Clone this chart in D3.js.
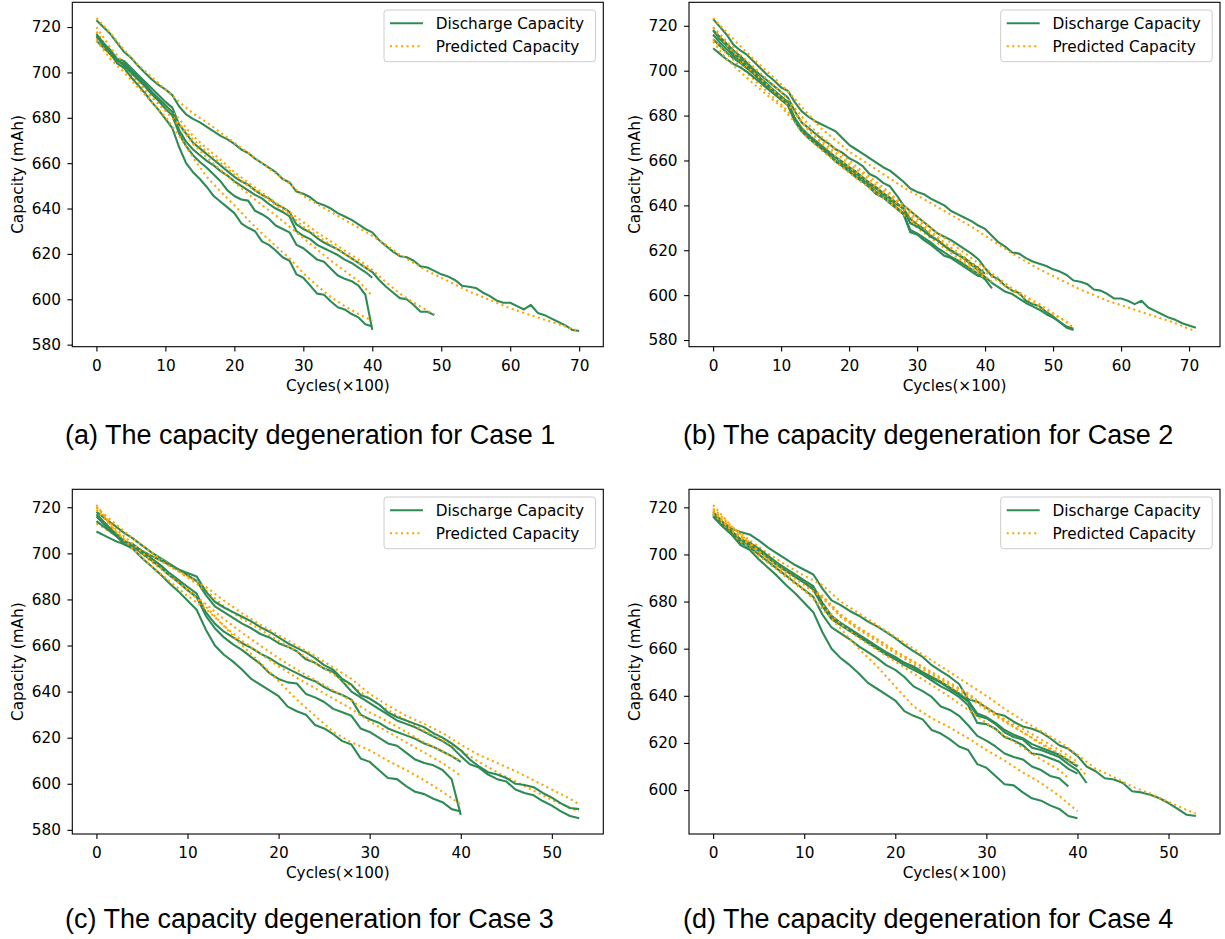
<!DOCTYPE html>
<html>
<head>
<meta charset="utf-8">
<script src="https://cdn.jsdelivr.net/npm/d3@7"></script>
<style>
  body { margin: 0; background: #fff; }
  svg { display: block; }
</style>
</head>
<body>
<script>
// discharge capacity (mAh), one value per 100 cycles, index = cycles / 100
const cell70 = [723, 720, 717, 713, 709, 706.5, 703, 700, 697, 694.5, 692.5, 690, 685, 681.5, 679.5, 678, 676, 674, 672, 670.5, 668.5, 666, 664.5, 662, 660, 658, 656, 653, 651.5, 647.5, 646.5, 645, 642.5, 641.5, 640, 638, 636.5, 635, 633, 631, 629.5, 626, 623.5, 621, 619, 618.5, 617, 614.5, 614, 612.5, 611, 610, 608.5, 606, 605.5, 605, 603, 601.5, 599.5, 598.5, 598.5, 597, 595.5, 597.5, 594, 593, 591.5, 590, 588.5, 586.5, 586];
const cell71 = [723, 719.5, 716, 711.5, 709, 707, 704, 701, 698, 695.5, 692.5, 691, 686, 682, 679.5, 677.5, 676, 674.5, 673, 670, 667, 665, 663, 661, 659, 657, 655.5, 653, 650.5, 647.5, 646, 645, 643, 641.5, 640, 637.5, 636, 634.5, 633, 631, 629.5, 626.5, 623.5, 621.5, 619, 618.5, 616.5, 615, 614, 613, 611.5, 610.5, 609, 606.5, 606, 605, 602.5, 602, 600.5, 598.5, 598.5, 597.5, 596, 597.5, 594.5, 593, 591.5, 590, 589, 587.5, 586.5, 585.5];
const cell49 = [716, 713, 710, 706, 705, 702, 699, 696, 693, 690, 687, 684.5, 677, 673, 669, 666.5, 664, 661.5, 659, 656.5, 654, 652, 650.5, 648, 646, 644.5, 642, 640.5, 638.5, 633, 631, 629.5, 627, 625, 623.5, 622, 620, 618, 616, 614, 612, 608.5, 605.5, 603, 600.5, 600, 597.5, 594.5, 594.5, 593];
const cell40a = [714, 711, 708, 705, 704, 701, 698, 695, 691.5, 688.5, 685.5, 682.5, 674.5, 669.5, 666, 663.5, 661, 659, 656.5, 654.5, 652, 650, 648, 646, 644.5, 642, 640, 638.5, 636.5, 630, 628, 626.5, 624, 622.5, 621, 619.5, 617.5, 616, 614, 612, 609.5];
const cell40s = [717, 713, 709, 705.5, 703, 700, 697, 694, 690.5, 687.5, 684, 681, 673, 667.5, 663.5, 660.5, 658, 655, 652, 648, 645.5, 644, 643.5, 639, 637.5, 635.5, 632.5, 631, 629.5, 624, 622.5, 620, 617.5, 616.5, 613.5, 610.5, 609, 608, 606, 602, 586.5];
const cell40b = [716, 712, 708.5, 704, 702, 698, 694.5, 691, 687, 683.5, 679.5, 675.5, 667, 660, 656, 653, 649.5, 645.5, 643, 640.5, 638, 633.5, 631.5, 630, 625.5, 624, 621.5, 618.5, 617, 611, 609.5, 606, 602.5, 602, 599, 596.5, 595.5, 593.5, 592, 589, 588];
const cell53a = [718, 715, 712, 709, 706.5, 703.5, 700.5, 698, 695.5, 693, 690.5, 688, 682, 677, 674.5, 672, 669.5, 667.5, 665, 663.5, 661, 659.5, 657.5, 654, 652.5, 650, 648.5, 644.5, 640, 637.5, 635, 632.5, 630, 627.5, 626, 624.5, 622.5, 620.5, 618.5, 616, 612, 608.5, 607, 604, 602, 601, 597.5, 596, 595, 592.5, 590.5, 588, 586, 585];
const cell53b = [709.5, 707.5, 705.5, 704, 703, 701, 699, 697, 695, 693, 691.5, 690, 683.5, 679, 676.5, 674.5, 672.5, 670.5, 668, 666, 663.5, 661, 659, 657, 654.5, 651.5, 649.5, 645.5, 643, 638.5, 637, 634.5, 631, 629, 627.5, 626, 624.5, 622, 620, 617.5, 614.5, 610.5, 607.5, 605, 604, 602.5, 600, 599.5, 598.5, 596, 594, 591.5, 589.5, 589];
const cell53c = [714, 711, 708, 705.5, 703.5, 701, 698.5, 696, 693.5, 691, 688.5, 686, 679, 674.5, 671.5, 669, 666.5, 664, 661.5, 659.5, 657, 655, 652.5, 650, 648, 645.5, 643.5, 641, 638.5, 634, 631.5, 629.5, 626.5, 624.5, 622, 619.5, 618, 616, 613.5, 611, 608, 605.5, 603.5, 601.5, 600.5, 598.5, 596.5, 595, 593.5, 591.5, 590, 588, 585.5, 584.5];
const cell41 = [718, 714, 711, 707.5, 705.5, 702.5, 699.5, 696.5, 694, 691, 688.5, 685.5, 678, 673.5, 670.5, 668, 665.5, 663, 660, 658, 655.5, 653.5, 651, 648.5, 646, 644, 642, 639, 636.5, 629, 627.5, 625.5, 623.5, 621, 619, 617, 615.5, 613.5, 611.5, 609.5, 607, 603];
const cell40c = [710, 707.5, 705, 703, 701.5, 699.5, 697, 694.5, 692, 689.5, 687, 684.5, 677.5, 673, 670, 667.5, 665, 662.5, 659.5, 657.5, 655, 652.5, 650.5, 648, 645, 643.5, 641, 638.5, 636, 628, 627, 624.5, 622.5, 620, 617.5, 616.5, 614.5, 612.5, 610.5, 608.5, 608];
const cell40d = [716, 712.5, 709.5, 706.5, 704.5, 701.5, 698.5, 695.5, 693, 690.5, 688, 685.5, 678.5, 674, 671, 668.5, 666, 663.5, 661.5, 659, 656.5, 654.5, 652, 649.5, 647.5, 645, 643, 640.5, 638.5, 632, 630.5, 628.5, 626, 624.5, 622, 620, 618, 616.5, 614, 612, 609.5];
const cellD53 = [718, 714, 711, 709.5, 708.5, 706, 703, 700.5, 698, 695.5, 693.5, 691.5, 685.5, 680.5, 678.5, 676, 674, 671.5, 669.5, 667, 664.5, 661.5, 659, 656.5, 653, 650.5, 648, 645, 638.5, 637.5, 635, 632.5, 631.5, 629, 627, 626, 624.5, 622, 619, 617.5, 614.5, 610, 608, 605, 604.5, 603, 599.5, 599, 598, 596.5, 594.5, 592, 589.5, 589];
const cellD41 = [717, 713, 709.5, 706, 704.5, 702, 699, 696, 693, 690.5, 688, 685.5, 678.5, 673, 670.5, 668, 665.5, 663, 660.5, 658, 656, 654, 652, 649.5, 647.5, 645.5, 643, 640.5, 637.5, 631.5, 630.5, 628, 624.5, 622.5, 621.5, 618, 617, 615.5, 614, 611, 608.5, 603];
const cellD40a = [717.5, 713.5, 710, 706.5, 705, 702.5, 699.5, 696.5, 694, 691.5, 689, 686.5, 679.5, 674, 671, 668.5, 666, 663.5, 661, 658.5, 656.5, 654, 652.5, 650, 648, 646, 643.5, 641, 638, 632.5, 631, 628.5, 625.5, 623.5, 622, 619.5, 618, 616.5, 615, 612.5, 610];
const cellD40b = [717, 713, 709.5, 706, 704, 701.5, 698.5, 695.5, 693, 690.5, 688, 685, 678, 672.5, 670, 667.5, 665, 662.5, 660, 657.5, 655.5, 653, 651, 649, 646.5, 644, 642, 639.5, 636, 628.5, 628, 626, 622.5, 621, 619, 615.5, 615, 613.5, 612, 609, 607];
const cellD39 = [716.5, 712.5, 709, 705, 703, 700, 697, 694, 691, 688, 685, 682, 674.5, 669, 666.5, 664, 661, 658.5, 656, 653, 651, 648, 644, 642, 639.5, 635.5, 634, 631.5, 627.5, 623, 621, 618.5, 615.5, 614, 613, 610, 608.5, 606, 605, 601.5];

// predicted capacity, one value every 200 cycles, the last one at end of life
const pa70 = [724, 717.5, 710, 703.5, 698, 692.5, 687, 682, 678, 673.5, 669, 664.5, 660, 655.5, 651, 645.5, 642, 638.5, 635, 631.5, 628, 624, 619.5, 616, 612.5, 609.5, 606.5, 603.5, 601, 598.5, 596, 594, 592, 590, 588, 586];
const pa49 = [720, 711, 704, 697, 691, 685.5, 679.5, 672, 666.5, 661.5, 656, 651.5, 647, 642.5, 638.5, 634, 629.5, 625.5, 621.5, 617.5, 613, 607.5, 602.5, 598.5, 595, 593.5];
const pa40a = [718, 709, 702.5, 696, 690, 684, 677.5, 670.5, 665, 660, 655, 650, 646, 641.5, 637.5, 632, 628, 624, 620, 616, 612];
const pa40s = [715, 707.5, 701.5, 695, 689, 683, 676.5, 668.5, 662.5, 657, 651.5, 646.5, 641.5, 637, 632, 627, 622, 617, 612.5, 608, 601.5];
const pa40b = [714, 706, 700, 693.5, 687, 680.5, 672, 662.5, 654, 647.5, 641.5, 635, 629, 623.5, 618, 611.5, 606, 601, 597, 593.5, 590.5];

const pb71 = [723.5, 717, 711, 705, 699.5, 694, 687.5, 680.5, 674, 669, 664, 660, 656, 652, 648, 644.5, 641, 637.5, 634, 630.5, 626.5, 622.5, 618.5, 615, 611.5, 608.5, 605.5, 602.5, 600, 597.5, 595.5, 593.5, 591.5, 589.5, 587.5, 585, 584];
const pb53a = [719.5, 713, 707, 701.5, 696, 690.5, 683.5, 676, 670.5, 665, 660, 655, 650.5, 645.5, 639.5, 634, 628.5, 623.5, 619, 614.5, 610.5, 606, 602, 598.5, 595, 591.5, 588, 585];
const pb53c = [716, 709.5, 704, 698.5, 693, 688, 681, 674, 668.5, 663.5, 658.5, 654, 649, 644.5, 640, 635, 630, 625.5, 621, 616.5, 612, 607.5, 603, 599.5, 596, 592, 588, 585.5];
const pb41 = [714, 707.5, 702, 696, 690.5, 685, 678.5, 671.5, 666, 661, 656, 651.5, 647, 642, 637, 631, 626.5, 622, 617.5, 613, 608.5, 606];
const pb40c = [713, 705, 699.5, 694, 689, 684, 677, 670, 664.5, 659.5, 654.5, 650, 645.5, 641, 636, 630, 625.5, 621, 616.5, 612, 607.5];
const pb40d = [719, 711.5, 705, 699, 693.5, 688, 681.5, 673.5, 667.5, 662, 657, 652.5, 648, 643.5, 638.5, 632.5, 627.5, 623, 618.5, 614, 609];

const pc53a = [720, 713, 706.5, 700.5, 695, 689.5, 684, 677, 671.5, 667, 662, 657.5, 652.5, 647.5, 642.5, 637, 632, 627.5, 623, 619, 614.5, 609.5, 605, 601, 597, 593, 589.5, 588];
const pc53b = [713, 708, 703.5, 699, 694.5, 690, 685.5, 679.5, 674, 669, 664.5, 660, 655.5, 650.5, 645.5, 639, 634, 629.5, 626, 622, 617, 612.5, 609, 605.5, 601.5, 597.5, 593.5, 591];
const pc40a = [719, 710, 703, 696.5, 690.5, 684.5, 678, 671.5, 665.5, 660, 654.5, 649.5, 645, 640.5, 636, 631, 627, 622.5, 618, 614, 610];
const pc40s = [720, 711, 704, 697, 690.5, 684, 677, 668.5, 662, 656.5, 651, 646, 641.5, 637, 632.5, 627, 622.5, 618, 613.5, 609, 603.5];
const pc40b = [721, 710, 702, 694.5, 688, 681.5, 676, 668.5, 660, 652.5, 644.5, 636.5, 629.5, 622.5, 618, 614.5, 610, 606, 601.5, 596.5, 591];

const pd53 = [719.5, 712, 706, 700.5, 695.5, 691, 687, 680, 675, 670, 665, 660, 655, 650, 645, 640, 634.5, 629.5, 625, 620.5, 615, 609, 605.5, 601.5, 598.5, 595, 591.5, 590];
const pd41 = [719, 711, 705, 699, 693.5, 688, 682, 674, 668.5, 664, 659, 654.5, 650, 645.5, 641, 635, 629.5, 624.5, 619.5, 615, 610.5, 606];
const pd40a = [718.5, 710.5, 704.5, 698.5, 693, 688, 682.5, 674.5, 669, 664, 659, 654.5, 649.5, 645, 640.5, 635, 630, 626, 621.5, 617, 612];
const pd40b = [718, 710, 704, 698, 692.5, 687, 681.5, 673.5, 668, 663, 658, 653.5, 649, 644, 639.5, 634, 629, 624.5, 620, 615.5, 610.5];
const pd39 = [717, 708.5, 702.5, 696.5, 690.5, 684.5, 678.5, 670.5, 664.5, 659.5, 654.5, 649.5, 644.5, 639.5, 634, 628.5, 623, 618, 613, 608.5, 605];
const pd40bot = [721, 712, 705, 698, 691.5, 685, 677, 668.5, 660, 652.5, 644, 635.5, 630.5, 626.5, 622, 617, 612.5, 607.5, 603, 597.5, 591];

// ticks
const xTicksLong = [0, 10, 20, 30, 40, 50, 60, 70];
const xTicksShort = [0, 10, 20, 30, 40, 50];
const yTicks = [580, 600, 620, 640, 660, 680, 700, 720];

const captions = [
  '(a) The capacity degeneration for Case 1',
  '(b) The capacity degeneration for Case 2',
  '(c) The capacity degeneration for Case 3',
  '(d) The capacity degeneration for Case 4'
];

// [discharge, predicted] pairs per case
const panels = [
  { cells: [[cell70, pa70], [cell49, pa49], [cell40a, pa40a], [cell40s, pa40s], [cell40b, pa40b]],
    xTicks: xTicksLong, left: 72.3, right: 603.3, top: 2.3, bottom: 346.7, capX: 65, capY: 444 },
  { cells: [[cell71, pb71], [cell53a, pb53a], [cell53c, pb53c], [cell41, pb41], [cell40c, pb40c], [cell40d, pb40d]],
    xTicks: xTicksLong, left: 689, right: 1220, top: 2.3, bottom: 346.7, capX: 683, capY: 444 },
  { cells: [[cell53a, pc53a], [cell53b, pc53b], [cell40a, pc40a], [cell40s, pc40s], [cell40b, pc40b]],
    xTicks: xTicksShort, left: 72.3, right: 603.3, top: 489.3, bottom: 834, capX: 65, capY: 928 },
  { cells: [[cellD53, pd53], [cellD41, pd41], [cellD40a, pd40a], [cellD40b, pd40b], [cellD39, pd39], [cell40b, pd40bot]],
    xTicks: xTicksShort, left: 689, right: 1220, top: 489.3, bottom: 834, capX: 683, capY: 928 }
];

const GREEN = '#2e8b57', ORANGE = '#ffa500';
const TICK_FONT = 'DejaVu Sans';
const FS = 15.3;

var svg = d3.select('body').append('svg')
  .attr('width', 1225)
  .attr('height', 939)
  .style('background', '#fff');

panels.forEach(function(p, k) {
  var g = svg.append('g');

  var xMax = d3.max(p.cells, c => c[0].length - 1);
  var all = p.cells.flatMap(c => c[0].concat(c[1]));
  var lo = d3.min(all), hi = d3.max(all), pad = (hi - lo) * 0.05;

  var x = d3.scaleLinear().domain([-0.05 * xMax, 1.05 * xMax]).range([p.left, p.right]);
  var y = d3.scaleLinear().domain([lo - pad, hi + pad]).range([p.bottom, p.top]);

  var line = d3.line().x(d => x(d[0])).y(d => y(d[1]));

  p.cells.forEach(function(c) {
    var disc = c[0], pred = c[1];
    var end = disc.length - 1;
    var discPts = disc.map((v, i) => [i, v]);
    var predPts = pred.map((v, i) => [Math.min(2 * i, end), v]);

    g.append('path')
      .attr('d', line(discPts))
      .attr('fill', 'none')
      .attr('stroke', GREEN)
      .attr('stroke-width', 2.1)
      .attr('stroke-linejoin', 'round');

    g.append('path')
      .attr('d', line(predPts))
      .attr('fill', 'none')
      .attr('stroke', ORANGE)
      .attr('stroke-width', 2.1)
      .attr('stroke-dasharray', '2.1,3.4');
  });

  // frame
  g.append('rect')
    .attr('x', p.left).attr('y', p.top)
    .attr('width', p.right - p.left).attr('height', p.bottom - p.top)
    .attr('fill', 'none').attr('stroke', '#000').attr('stroke-width', 1.1);

  // axes
  var gx = g.append('g')
    .attr('transform', 'translate(0,' + p.bottom + ')')
    .call(d3.axisBottom(x).tickValues(p.xTicks).tickSize(4.9).tickPadding(8.3));
  var ySet = yTicks.filter(t => t >= y.domain()[0] && t <= y.domain()[1]);
  var gy = g.append('g')
    .attr('transform', 'translate(' + p.left + ',0)')
    .call(d3.axisLeft(y).tickValues(ySet).tickSize(4.9).tickPadding(6.5));

  [gx, gy].forEach(function(a) {
    a.select('.domain').remove();
    a.attr('font-family', TICK_FONT).attr('font-size', FS);
    a.selectAll('line').attr('stroke', '#000').attr('stroke-width', 1.1);
    a.selectAll('text').attr('fill', '#000');
  });

  g.append('text')
    .attr('x', (p.left + p.right) / 2)
    .attr('y', p.bottom + 44)
    .attr('text-anchor', 'middle')
    .attr('font-family', TICK_FONT).attr('font-size', FS)
    .text('Cycles(×100)');

  g.append('text')
    .attr('transform', 'translate(' + (p.left - 49.5) + ',' + ((p.top + p.bottom) / 2) + ') rotate(-90)')
    .attr('text-anchor', 'middle')
    .attr('font-family', TICK_FONT).attr('font-size', FS)
    .text('Capacity (mAh)');

  // legend
  var lg = g.append('g')
    .attr('transform', 'translate(' + (p.right - 219.3) + ',' + (p.top + 7.7) + ')');
  lg.append('rect')
    .attr('width', 211.5).attr('height', 51.7).attr('rx', 3)
    .attr('fill', '#fff').attr('fill-opacity', 0.8)
    .attr('stroke', '#ccc').attr('stroke-width', 1);
  var items = [['Discharge Capacity', GREEN, null], ['Predicted Capacity', ORANGE, '2.1,3.4']];
  items.forEach(function(it, i) {
    var yy = 13.3 + i * 23;
    lg.append('line')
      .attr('x1', 6).attr('x2', 39).attr('y1', yy).attr('y2', yy)
      .attr('stroke', it[1]).attr('stroke-width', 2.1)
      .attr('stroke-dasharray', it[2]);
    lg.append('text')
      .attr('x', 51.7).attr('y', yy + 5.5)
      .attr('font-family', TICK_FONT).attr('font-size', FS)
      .text(it[0]);
  });

  // caption under the panel
  svg.append('text')
    .attr('x', p.capX).attr('y', p.capY)
    .attr('font-family', 'Liberation Sans, Arial, sans-serif')
    .attr('font-size', 27)
    .attr('fill', '#000')
    .text(captions[k]);
});
</script>
</body>
</html>
